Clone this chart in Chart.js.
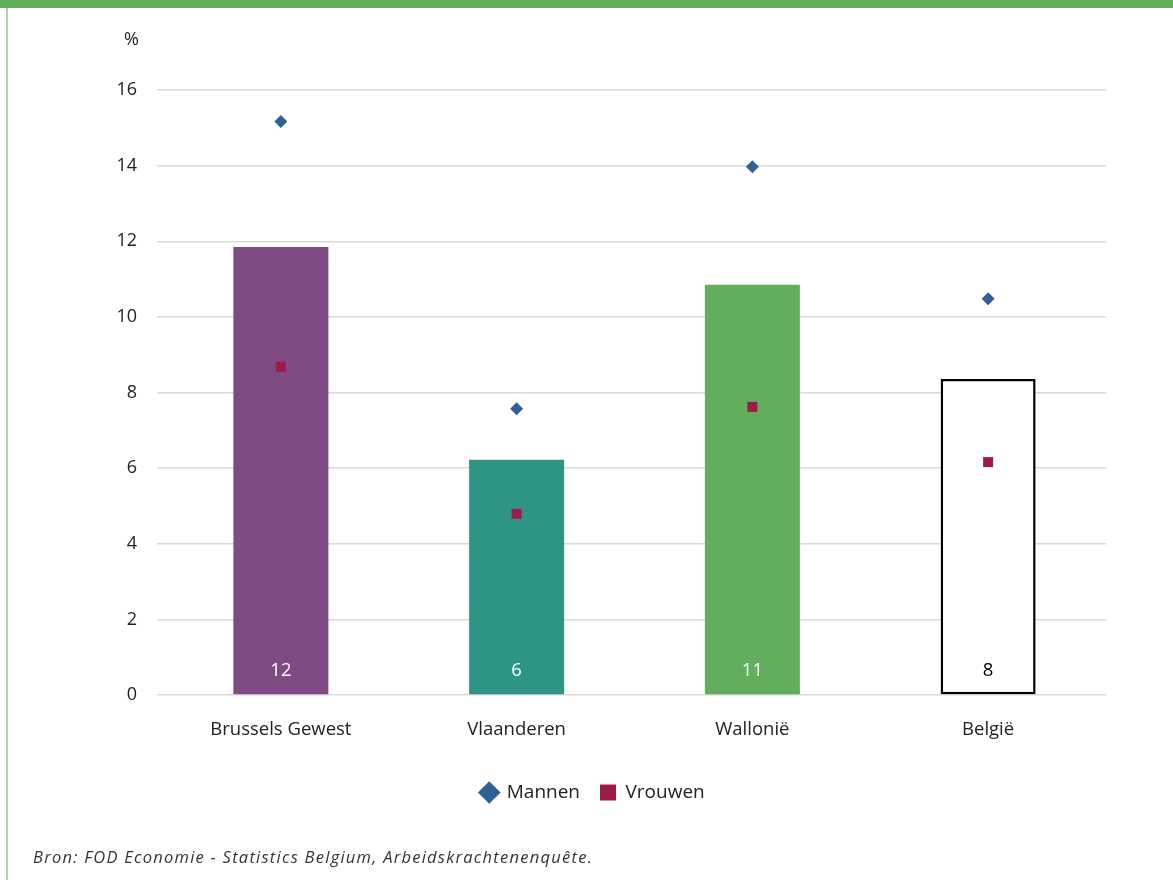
<!DOCTYPE html>
<html>
<head>
<meta charset="utf-8">
<script src="https://cdn.jsdelivr.net/npm/chart.js@4.4.1/dist/chart.umd.min.js"></script>
<style>
  html, body { margin: 0; padding: 0; background: #fff; }
  body { width: 1173px; height: 880px; position: relative; overflow: hidden; font-family: "Open Sans", sans-serif; }
  #topbar { position: absolute; left: 0; top: 0; width: 1173px; height: 8px; background: #63ae5c; }
  #leftbar { position: absolute; left: 6px; top: 8px; width: 2px; height: 872px; background: #a9d5a3; }
  #wrap { position: absolute; left: 0; top: 0; width: 1173px; height: 880px; }
  #unit { position: absolute; left: 124px; top: 26px; font-size: 18px; color: #222; }
  #source { position: absolute; left: 33px; top: 845px; font-size: 16.5px; font-style: italic; color: #333; letter-spacing: 1.25px; font-family: "Open Sans", sans-serif; }
</style>
</head>
<body>
<div id="topbar"></div>
<div id="leftbar"></div>
<div id="wrap"><canvas id="c" width="1173" height="880"></canvas></div>
<div id="unit">%</div>
<div id="source">Bron: FOD Economie - Statistics Belgium, Arbeidskrachtenenquête.</div>
<script>
const categories = ["Brussels Gewest", "Vlaanderen", "Wallonië", "België"];
const totalValues = [11.85, 6.22, 10.85, 8.36];
const totalLabels = ["12", "6", "11", "8"];
const mannenValues = [15.17, 7.57, 13.97, 10.48];
const vrouwenValues = [8.68, 4.79, 7.62, 6.16];
const yTicks = [0, 2, 4, 6, 8, 10, 12, 14, 16];

const barColors = ["#7e4c82", "#2e9483", "#63ae5c", "#ffffff"];
const barBorders = ["#7e4c82", "#2e9483", "#63ae5c", "#000000"];
const barBorderWidths = [0, 0, 0, 2.5];
const labelColors = ["#ffffff", "#ffffff", "#ffffff", "#000000"];

const FONT = "'Open Sans', sans-serif";

const barLabelPlugin = {
  id: 'barLabels',
  afterDatasetsDraw(chart) {
    const meta = chart.getDatasetMeta(0);
    const ctx = chart.ctx;
    const yScale = chart.scales.y;
    ctx.save();
    ctx.font = "18.5px " + FONT;
    ctx.textAlign = 'center';
    ctx.textBaseline = 'middle';
    meta.data.forEach((bar, i) => {
      ctx.fillStyle = labelColors[i];
      ctx.fillText(totalLabels[i], bar.x, yScale.getPixelForValue(0) - 24);
    });
    ctx.restore();
  }
};

const legendShiftPlugin = {
  id: 'legendShift',
  afterLayout(chart) {
    const lg = chart.legend;
    if (lg) { lg.left += 40; lg.right += 40; }
  }
};

new Chart(document.getElementById('c'), {
  data: {
    labels: categories,
    datasets: [
      {
        type: 'bar',
        label: 'Totaal',
        data: totalValues,
        backgroundColor: barColors,
        borderColor: barBorders,
        borderWidth: barBorderWidths,
        borderSkipped: false,
        barPercentage: 0.403,
        categoryPercentage: 1,
        order: 2
      },
      {
        type: 'line',
        label: 'Mannen',
        data: mannenValues,
        showLine: false,
        pointStyle: 'rectRot',
        pointRadius: 6.5,
        pointHoverRadius: 6.5,
        backgroundColor: '#2f6196',
        borderColor: '#2f6196',
        pointBorderWidth: 0,
        order: 1
      },
      {
        type: 'line',
        label: 'Vrouwen',
        data: vrouwenValues,
        showLine: false,
        pointStyle: 'rect',
        pointRadius: 7.07,
        pointHoverRadius: 7.07,
        backgroundColor: '#9e1a4b',
        borderColor: '#9e1a4b',
        pointBorderWidth: 0,
        order: 0
      }
    ]
  },
  options: {
    responsive: false,
    animation: false,
    layout: { padding: { left: 0, right: 67, top: 90, bottom: 68 } },
    plugins: {
      tooltip: { enabled: false },
      legend: {
        position: 'bottom',
        labels: {
          usePointStyle: true,
          boxHeight: 16,
          boxWidth: 16,
          padding: 20,
          color: '#222',
          font: { family: FONT, size: 19 },
          filter: (item) => item.datasetIndex !== 0,
          sort: (a, b) => a.datasetIndex - b.datasetIndex
        }
      }
    },
    scales: {
      x: {
        grid: { display: false, drawTicks: false },
        border: { display: false },
        ticks: { color: '#222', font: { family: FONT, size: 18.5 }, padding: 24 },
        afterFit(scale) { scale.height = 68; }
      },
      y: {
        min: 0,
        max: 16,
        afterBuildTicks(scale) { scale.ticks = yTicks.map(v => ({ value: v })); },
        grid: { color: '#d9d9d9', lineWidth: 1.5, drawTicks: true, tickLength: 6 },
        border: { display: false },
        ticks: { color: '#222', font: { family: FONT, size: 18 }, padding: 20 },
        afterFit(scale) { scale.width = 163; }
      }
    }
  },
  plugins: [barLabelPlugin, legendShiftPlugin]
});
</script>
</body>
</html>
